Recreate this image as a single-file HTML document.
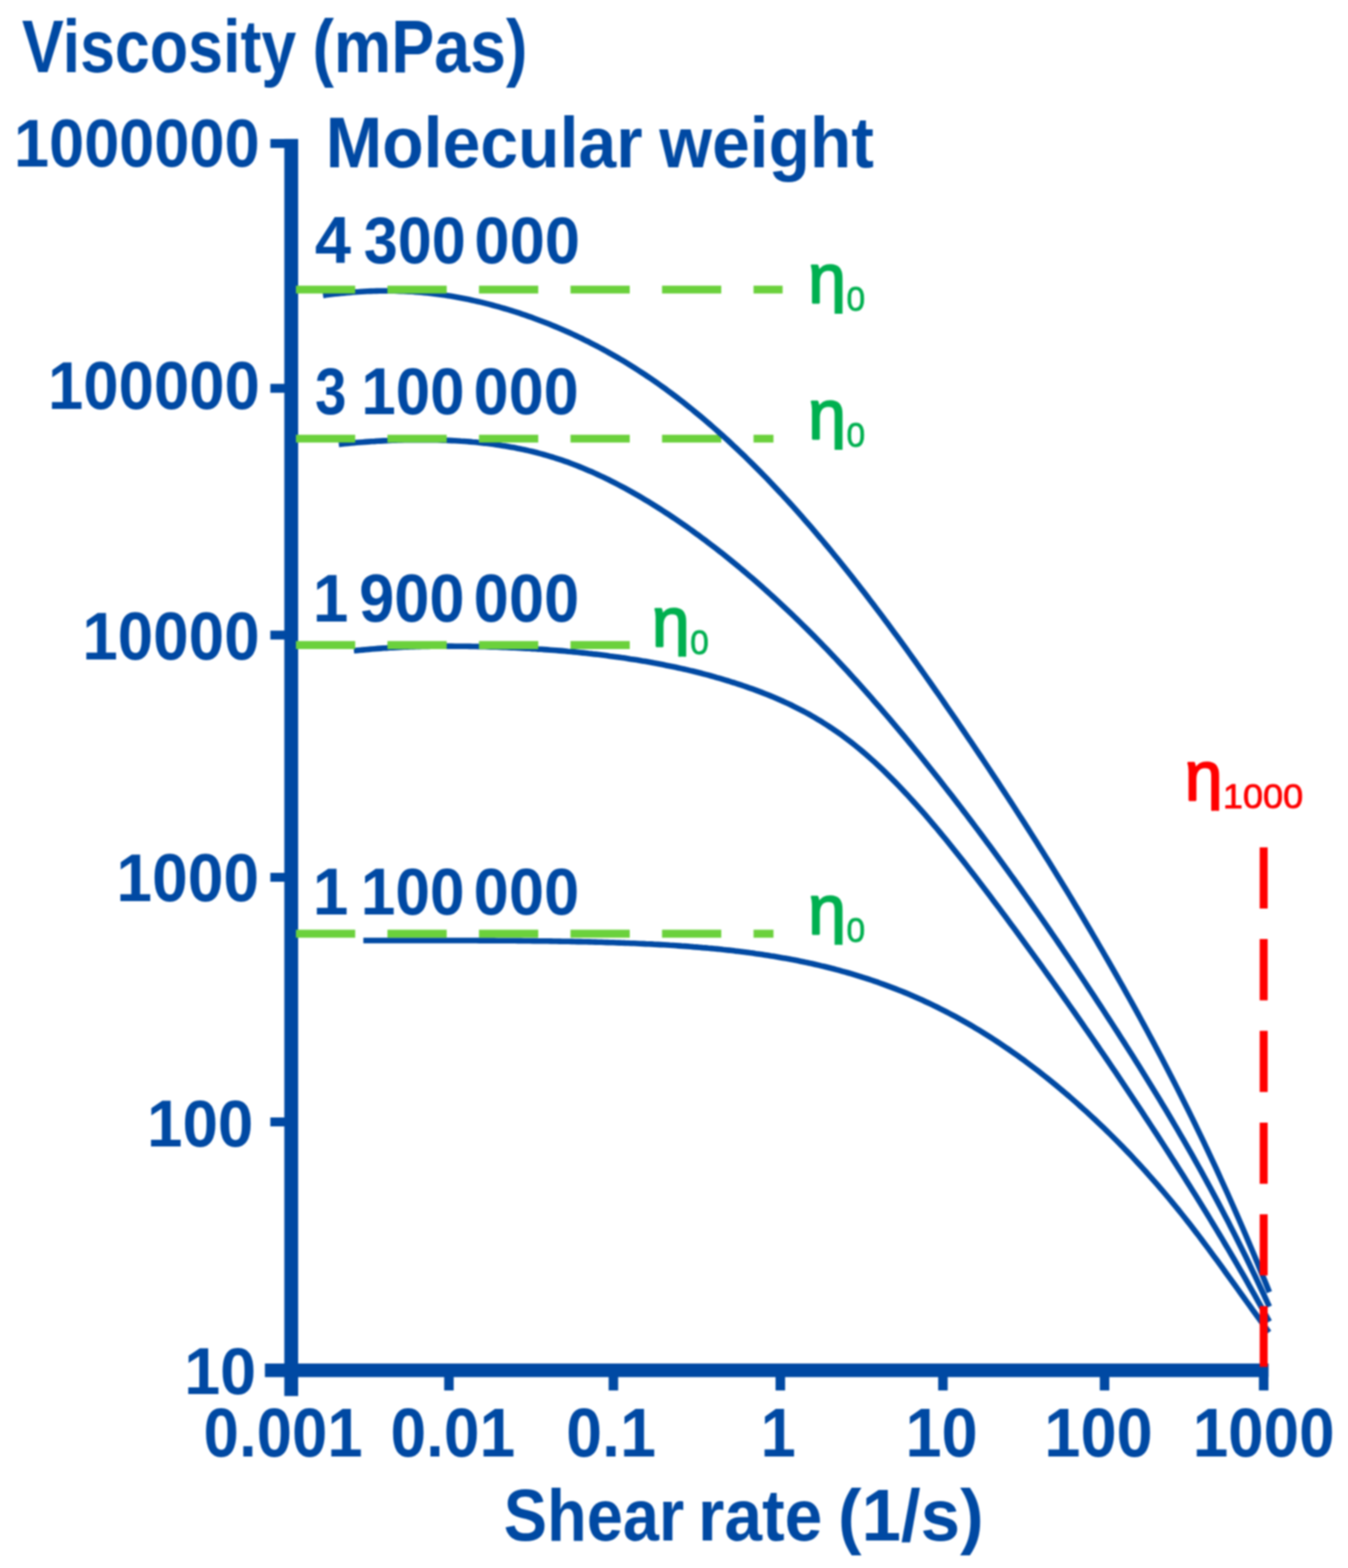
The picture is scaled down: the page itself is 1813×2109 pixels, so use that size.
<!DOCTYPE html>
<html lang="en"><head><meta charset="utf-8"><title>Viscosity (mPas) - Shear rate (1/s)</title>
<style>html,body{margin:0;padding:0;background:#fff;}body{width:1813px;height:2109px;overflow:hidden;}svg{display:block;}text{font-family:"Liberation Sans", sans-serif;font-size:100px;white-space:pre;}</style></head><body>
<svg width="1813" height="2109" viewBox="0 0 1813 2109">
<rect width="1813" height="2109" fill="#fff"/>
<g style="filter:blur(0.8px)">
<g fill="#0049A3">
<rect x="382.40" y="186.9" width="18.6" height="1690.8"/>
<rect x="356.3" y="1833.95" width="1349.9" height="18.3"/>
<rect x="363.6" y="187.00" width="28.10" height="12"/>
<rect x="363.6" y="516.30" width="28.10" height="12"/>
<rect x="363.6" y="848.20" width="28.10" height="12"/>
<rect x="363.6" y="1174.00" width="28.10" height="12"/>
<rect x="363.6" y="1503.00" width="28.10" height="12"/>
<rect x="597.40" y="1843.10" width="12.8" height="27.10"/>
<rect x="818.60" y="1843.10" width="12.8" height="27.10"/>
<rect x="1043.10" y="1843.10" width="12.8" height="27.10"/>
<rect x="1261.80" y="1843.10" width="12.8" height="27.10"/>
<rect x="1479.20" y="1843.10" width="12.8" height="27.10"/>
<rect x="1693.20" y="1843.10" width="12.8" height="27.10"/>
</g>
<path d="M488.7,1265.0 L492.7,1265.0 L496.7,1265.0 L500.7,1265.0 L504.7,1265.0 L508.7,1265.0 L512.7,1265.0 L516.7,1265.0 L520.7,1265.0 L524.7,1265.0 L528.7,1265.0 L532.7,1265.0 L536.7,1265.0 L540.7,1265.0 L544.7,1265.0 L548.7,1265.0 L552.7,1265.0 L556.7,1265.0 L560.7,1265.0 L564.7,1265.0 L568.7,1265.0 L572.7,1265.0 L576.7,1265.0 L580.7,1265.0 L584.7,1265.0 L588.7,1265.0 L592.7,1265.0 L596.7,1265.0 L600.7,1265.0 L604.7,1265.0 L608.7,1265.0 L612.7,1265.0 L616.7,1265.0 L620.7,1265.0 L624.7,1265.0 L628.7,1265.0 L632.7,1265.0 L636.7,1265.0 L640.7,1265.0 L644.7,1265.1 L648.7,1265.1 L652.7,1265.1 L656.7,1265.1 L660.7,1265.1 L664.7,1265.1 L668.7,1265.2 L672.7,1265.2 L676.7,1265.2 L680.7,1265.2 L684.7,1265.3 L688.7,1265.3 L692.7,1265.3 L696.7,1265.4 L700.7,1265.4 L704.7,1265.5 L708.7,1265.5 L712.7,1265.5 L716.7,1265.6 L720.7,1265.6 L724.7,1265.7 L728.7,1265.7 L732.7,1265.8 L736.7,1265.8 L740.7,1265.9 L744.7,1266.0 L748.7,1266.0 L752.7,1266.1 L756.7,1266.2 L760.7,1266.2 L764.7,1266.3 L768.7,1266.4 L772.7,1266.5 L776.7,1266.6 L780.7,1266.6 L784.7,1266.7 L788.7,1266.8 L792.7,1266.9 L796.7,1267.0 L800.7,1267.1 L804.7,1267.2 L808.7,1267.3 L812.7,1267.5 L816.7,1267.6 L820.7,1267.7 L824.7,1267.8 L828.7,1268.0 L832.7,1268.1 L836.7,1268.2 L840.7,1268.4 L844.7,1268.5 L848.7,1268.7 L852.7,1268.8 L856.7,1269.0 L860.7,1269.2 L864.7,1269.4 L868.7,1269.6 L872.7,1269.7 L876.7,1269.9 L880.7,1270.2 L884.7,1270.4 L888.7,1270.6 L892.7,1270.8 L896.7,1271.0 L900.7,1271.3 L904.7,1271.5 L908.7,1271.8 L912.7,1272.1 L916.7,1272.4 L920.7,1272.6 L924.7,1272.9 L928.7,1273.2 L932.7,1273.6 L936.7,1273.9 L940.7,1274.2 L944.7,1274.6 L948.7,1274.9 L952.7,1275.3 L956.7,1275.6 L960.7,1276.0 L964.7,1276.4 L968.7,1276.8 L972.7,1277.3 L976.7,1277.7 L980.7,1278.1 L984.7,1278.6 L988.7,1279.1 L992.7,1279.5 L996.7,1280.0 L1000.7,1280.5 L1004.7,1281.0 L1008.7,1281.6 L1012.7,1282.1 L1016.7,1282.7 L1020.7,1283.2 L1024.7,1283.8 L1028.7,1284.4 L1032.7,1285.0 L1036.7,1285.7 L1040.7,1286.3 L1044.7,1287.0 L1048.7,1287.7 L1052.7,1288.4 L1056.7,1289.1 L1060.7,1289.8 L1064.7,1290.6 L1068.7,1291.3 L1072.7,1292.1 L1076.7,1292.9 L1080.7,1293.7 L1084.7,1294.6 L1088.7,1295.4 L1092.7,1296.3 L1096.7,1297.2 L1100.7,1298.1 L1104.7,1299.1 L1108.7,1300.0 L1112.7,1301.0 L1116.7,1302.0 L1120.7,1303.0 L1124.7,1304.1 L1128.7,1305.2 L1132.7,1306.3 L1136.7,1307.4 L1140.7,1308.5 L1144.7,1309.7 L1148.7,1310.9 L1152.7,1312.1 L1156.7,1313.3 L1160.7,1314.6 L1164.7,1315.8 L1168.7,1317.2 L1172.7,1318.5 L1176.7,1319.9 L1180.7,1321.2 L1184.7,1322.7 L1188.7,1324.1 L1192.7,1325.6 L1196.7,1327.1 L1200.7,1328.6 L1204.7,1330.1 L1208.7,1331.7 L1212.7,1333.3 L1216.7,1334.9 L1220.7,1336.6 L1224.7,1338.3 L1228.7,1340.0 L1232.7,1341.8 L1236.7,1343.5 L1240.7,1345.3 L1244.7,1347.2 L1248.7,1349.0 L1252.7,1350.9 L1256.7,1352.9 L1260.7,1354.8 L1264.7,1356.8 L1268.7,1358.8 L1272.7,1360.9 L1276.7,1363.0 L1280.7,1365.1 L1284.7,1367.2 L1288.7,1369.4 L1292.7,1371.6 L1296.7,1373.9 L1300.7,1376.1 L1304.7,1378.4 L1308.7,1380.8 L1312.7,1383.2 L1316.7,1385.6 L1320.7,1388.0 L1324.7,1390.5 L1328.7,1393.0 L1332.7,1395.5 L1336.7,1398.1 L1340.7,1400.7 L1344.7,1403.4 L1348.7,1406.1 L1352.7,1408.8 L1356.7,1411.5 L1360.7,1414.3 L1364.7,1417.1 L1368.7,1419.9 L1372.7,1422.8 L1376.7,1425.7 L1380.7,1428.7 L1384.7,1431.7 L1388.7,1434.7 L1392.7,1437.7 L1396.7,1440.8 L1400.7,1443.9 L1404.7,1447.1 L1408.7,1450.3 L1412.7,1453.5 L1416.7,1456.7 L1420.7,1460.0 L1424.7,1463.4 L1428.7,1466.7 L1432.7,1470.1 L1436.7,1473.5 L1440.7,1477.0 L1444.7,1480.5 L1448.7,1484.0 L1452.7,1487.6 L1456.7,1491.2 L1460.7,1494.8 L1464.7,1498.5 L1468.7,1502.2 L1472.7,1505.9 L1476.7,1509.7 L1480.7,1513.5 L1484.7,1517.3 L1488.7,1521.2 L1492.7,1525.1 L1496.7,1529.1 L1500.7,1533.1 L1504.7,1537.2 L1508.7,1541.2 L1512.7,1545.4 L1516.7,1549.5 L1520.7,1553.7 L1524.7,1558.0 L1528.7,1562.3 L1532.7,1566.6 L1536.7,1571.0 L1540.7,1575.4 L1544.7,1579.9 L1548.7,1584.4 L1552.7,1588.9 L1556.7,1593.5 L1560.7,1598.2 L1564.7,1602.9 L1568.7,1607.6 L1572.7,1612.4 L1576.7,1617.2 L1580.7,1622.1 L1584.7,1627.0 L1588.7,1632.0 L1592.7,1637.0 L1596.7,1642.1 L1600.7,1647.2 L1604.7,1652.4 L1608.7,1657.6 L1612.7,1662.8 L1616.7,1668.1 L1620.7,1673.5 L1624.7,1678.8 L1628.7,1684.2 L1632.7,1689.7 L1636.7,1695.1 L1640.7,1700.6 L1644.7,1706.1 L1648.7,1711.7 L1652.7,1717.2 L1656.7,1722.7 L1660.7,1728.3 L1664.7,1733.9 L1668.7,1739.4 L1672.7,1745.0 L1676.7,1750.6 L1680.7,1756.1 L1684.7,1761.7 L1688.7,1767.3 L1692.7,1772.8 L1696.7,1778.3 L1700.7,1783.8 L1704.7,1789.3 L1706.7,1792.0" fill="none" stroke="#0049A3" stroke-width="7.6" stroke-linecap="butt" stroke-linejoin="round"/>
<line x1="398" y1="1255.9" x2="1040.3" y2="1255.9" fill="none" stroke="#6BD13C" stroke-width="10.6" stroke-dasharray="79.7 43.4"/>
<path d="M476.0,875.3 L480.0,874.9 L484.0,874.5 L488.0,874.1 L492.0,873.7 L496.0,873.4 L500.0,873.0 L504.0,872.7 L508.0,872.4 L512.0,872.1 L516.0,871.8 L520.0,871.6 L524.0,871.3 L528.0,871.1 L532.0,870.9 L536.0,870.7 L540.0,870.5 L544.0,870.3 L548.0,870.2 L552.0,870.0 L556.0,869.9 L560.0,869.7 L564.0,869.6 L568.0,869.5 L572.0,869.4 L576.0,869.4 L580.0,869.3 L584.0,869.3 L588.0,869.2 L592.0,869.2 L596.0,869.2 L600.0,869.1 L604.0,869.1 L608.0,869.1 L612.0,869.2 L616.0,869.2 L620.0,869.2 L624.0,869.3 L628.0,869.3 L632.0,869.4 L636.0,869.5 L640.0,869.5 L644.0,869.6 L648.0,869.7 L652.0,869.8 L656.0,869.9 L660.0,870.1 L664.0,870.2 L668.0,870.3 L672.0,870.5 L676.0,870.6 L680.0,870.8 L684.0,870.9 L688.0,871.1 L692.0,871.3 L696.0,871.5 L700.0,871.7 L704.0,871.9 L708.0,872.1 L712.0,872.3 L716.0,872.6 L720.0,872.8 L724.0,873.1 L728.0,873.3 L732.0,873.6 L736.0,873.9 L740.0,874.2 L744.0,874.5 L748.0,874.8 L752.0,875.1 L756.0,875.4 L760.0,875.8 L764.0,876.2 L768.0,876.5 L772.0,876.9 L776.0,877.3 L780.0,877.7 L784.0,878.1 L788.0,878.5 L792.0,879.0 L796.0,879.4 L800.0,879.9 L804.0,880.3 L808.0,880.8 L812.0,881.3 L816.0,881.8 L820.0,882.4 L824.0,882.9 L828.0,883.4 L832.0,884.0 L836.0,884.6 L840.0,885.1 L844.0,885.7 L848.0,886.4 L852.0,887.0 L856.0,887.6 L860.0,888.3 L864.0,889.0 L868.0,889.6 L872.0,890.3 L876.0,891.0 L880.0,891.8 L884.0,892.5 L888.0,893.3 L892.0,894.1 L896.0,894.9 L900.0,895.7 L904.0,896.5 L908.0,897.3 L912.0,898.2 L916.0,899.1 L920.0,900.0 L924.0,900.9 L928.0,901.9 L932.0,902.8 L936.0,903.8 L940.0,904.8 L944.0,905.8 L948.0,906.9 L952.0,907.9 L956.0,909.0 L960.0,910.1 L964.0,911.3 L968.0,912.4 L972.0,913.6 L976.0,914.8 L980.0,916.0 L984.0,917.3 L988.0,918.5 L992.0,919.8 L996.0,921.1 L1000.0,922.5 L1004.0,923.9 L1008.0,925.3 L1012.0,926.7 L1016.0,928.1 L1020.0,929.6 L1024.0,931.1 L1028.0,932.7 L1032.0,934.3 L1036.0,935.9 L1040.0,937.5 L1044.0,939.2 L1048.0,941.0 L1052.0,942.7 L1056.0,944.6 L1060.0,946.4 L1064.0,948.3 L1068.0,950.3 L1072.0,952.3 L1076.0,954.3 L1080.0,956.4 L1084.0,958.5 L1088.0,960.7 L1092.0,963.0 L1096.0,965.3 L1100.0,967.7 L1104.0,970.1 L1108.0,972.6 L1112.0,975.1 L1116.0,977.7 L1120.0,980.4 L1124.0,983.1 L1128.0,985.9 L1132.0,988.7 L1136.0,991.7 L1140.0,994.7 L1144.0,997.7 L1148.0,1000.9 L1152.0,1004.1 L1156.0,1007.4 L1160.0,1010.7 L1164.0,1014.1 L1168.0,1017.6 L1172.0,1021.2 L1176.0,1024.8 L1180.0,1028.5 L1184.0,1032.3 L1188.0,1036.1 L1192.0,1040.0 L1196.0,1044.0 L1200.0,1048.0 L1204.0,1052.0 L1208.0,1056.1 L1212.0,1060.3 L1216.0,1064.6 L1220.0,1068.8 L1224.0,1073.2 L1228.0,1077.6 L1232.0,1082.0 L1236.0,1086.5 L1240.0,1091.0 L1244.0,1095.6 L1248.0,1100.3 L1252.0,1104.9 L1256.0,1109.7 L1260.0,1114.4 L1264.0,1119.2 L1268.0,1124.1 L1272.0,1128.9 L1276.0,1133.8 L1280.0,1138.8 L1284.0,1143.8 L1288.0,1148.8 L1292.0,1153.8 L1296.0,1158.9 L1300.0,1164.0 L1304.0,1169.2 L1308.0,1174.3 L1312.0,1179.5 L1316.0,1184.7 L1320.0,1190.0 L1324.0,1195.2 L1328.0,1200.5 L1332.0,1205.8 L1336.0,1211.2 L1340.0,1216.5 L1344.0,1221.8 L1348.0,1227.2 L1352.0,1232.6 L1356.0,1238.0 L1360.0,1243.4 L1364.0,1248.8 L1368.0,1254.3 L1372.0,1259.7 L1376.0,1265.2 L1380.0,1270.7 L1384.0,1276.2 L1388.0,1281.7 L1392.0,1287.2 L1396.0,1292.7 L1400.0,1298.3 L1404.0,1303.9 L1408.0,1309.4 L1412.0,1315.0 L1416.0,1320.6 L1420.0,1326.2 L1424.0,1331.9 L1428.0,1337.5 L1432.0,1343.2 L1436.0,1348.9 L1440.0,1354.6 L1444.0,1360.3 L1448.0,1366.0 L1452.0,1371.7 L1456.0,1377.5 L1460.0,1383.3 L1464.0,1389.0 L1468.0,1394.8 L1472.0,1400.6 L1476.0,1406.5 L1480.0,1412.3 L1484.0,1418.2 L1488.0,1424.0 L1492.0,1429.9 L1496.0,1435.8 L1500.0,1441.7 L1504.0,1447.7 L1508.0,1453.6 L1512.0,1459.6 L1516.0,1465.6 L1520.0,1471.6 L1524.0,1477.6 L1528.0,1483.6 L1532.0,1489.6 L1536.0,1495.7 L1540.0,1501.8 L1544.0,1507.9 L1548.0,1514.0 L1552.0,1520.1 L1556.0,1526.2 L1560.0,1532.4 L1564.0,1538.5 L1568.0,1544.7 L1572.0,1550.9 L1576.0,1557.2 L1580.0,1563.4 L1584.0,1569.7 L1588.0,1576.0 L1592.0,1582.3 L1596.0,1588.7 L1600.0,1595.0 L1604.0,1601.4 L1608.0,1607.8 L1612.0,1614.3 L1616.0,1620.8 L1620.0,1627.3 L1624.0,1633.8 L1628.0,1640.4 L1632.0,1647.0 L1636.0,1653.6 L1640.0,1660.2 L1644.0,1666.9 L1648.0,1673.7 L1652.0,1680.4 L1656.0,1687.2 L1660.0,1694.0 L1664.0,1700.9 L1668.0,1707.8 L1672.0,1714.7 L1676.0,1721.7 L1680.0,1728.8 L1684.0,1735.8 L1688.0,1742.9 L1692.0,1750.1 L1696.0,1757.2 L1700.0,1764.5 L1704.0,1771.8 L1707.2,1777.6" fill="none" stroke="#0049A3" stroke-width="7.6" stroke-linecap="butt" stroke-linejoin="round"/>
<line x1="398" y1="867.6" x2="850.0" y2="867.6" fill="none" stroke="#6BD13C" stroke-width="10.6" stroke-dasharray="79.7 43.4"/>
<path d="M455.7,597.6 L459.7,597.2 L463.7,596.8 L467.7,596.4 L471.7,596.0 L475.7,595.7 L479.7,595.3 L483.7,595.0 L487.7,594.7 L491.7,594.4 L495.7,594.1 L499.7,593.8 L503.7,593.6 L507.7,593.3 L511.7,593.1 L515.7,592.9 L519.7,592.7 L523.7,592.5 L527.7,592.3 L531.7,592.2 L535.7,592.0 L539.7,591.9 L543.7,591.8 L547.7,591.7 L551.7,591.7 L555.7,591.6 L559.7,591.6 L563.7,591.6 L567.7,591.6 L571.7,591.6 L575.7,591.6 L579.7,591.7 L583.7,591.7 L587.7,591.8 L591.7,591.9 L595.7,592.1 L599.7,592.2 L603.7,592.4 L607.7,592.6 L611.7,592.8 L615.7,593.0 L619.7,593.3 L623.7,593.5 L627.7,593.8 L631.7,594.1 L635.7,594.5 L639.7,594.8 L643.7,595.2 L647.7,595.7 L651.7,596.1 L655.7,596.6 L659.7,597.1 L663.7,597.6 L667.7,598.2 L671.7,598.7 L675.7,599.4 L679.7,600.0 L683.7,600.7 L687.7,601.4 L691.7,602.1 L695.7,602.9 L699.7,603.7 L703.7,604.6 L707.7,605.4 L711.7,606.4 L715.7,607.3 L719.7,608.3 L723.7,609.3 L727.7,610.4 L731.7,611.5 L735.7,612.6 L739.7,613.8 L743.7,615.0 L747.7,616.3 L751.7,617.6 L755.7,618.9 L759.7,620.3 L763.7,621.7 L767.7,623.2 L771.7,624.7 L775.7,626.3 L779.7,627.9 L783.7,629.5 L787.7,631.2 L791.7,632.9 L795.7,634.6 L799.7,636.4 L803.7,638.2 L807.7,640.1 L811.7,641.9 L815.7,643.9 L819.7,645.8 L823.7,647.9 L827.7,649.9 L831.7,652.0 L835.7,654.1 L839.7,656.2 L843.7,658.4 L847.7,660.6 L851.7,662.9 L855.7,665.1 L859.7,667.4 L863.7,669.8 L867.7,672.2 L871.7,674.6 L875.7,677.0 L879.7,679.5 L883.7,682.0 L887.7,684.5 L891.7,687.1 L895.7,689.7 L899.7,692.3 L903.7,695.0 L907.7,697.7 L911.7,700.4 L915.7,703.1 L919.7,705.9 L923.7,708.7 L927.7,711.5 L931.7,714.4 L935.7,717.3 L939.7,720.2 L943.7,723.2 L947.7,726.1 L951.7,729.2 L955.7,732.2 L959.7,735.3 L963.7,738.3 L967.7,741.5 L971.7,744.6 L975.7,747.8 L979.7,751.0 L983.7,754.3 L987.7,757.5 L991.7,760.8 L995.7,764.1 L999.7,767.5 L1003.7,770.9 L1007.7,774.3 L1011.7,777.7 L1015.7,781.2 L1019.7,784.7 L1023.7,788.2 L1027.7,791.8 L1031.7,795.4 L1035.7,799.0 L1039.7,802.6 L1043.7,806.3 L1047.7,810.0 L1051.7,813.7 L1055.7,817.5 L1059.7,821.2 L1063.7,825.0 L1067.7,828.9 L1071.7,832.7 L1075.7,836.6 L1079.7,840.6 L1083.7,844.5 L1087.7,848.5 L1091.7,852.5 L1095.7,856.5 L1099.7,860.6 L1103.7,864.7 L1107.7,868.8 L1111.7,872.9 L1115.7,877.1 L1119.7,881.3 L1123.7,885.5 L1127.7,889.8 L1131.7,894.1 L1135.7,898.4 L1139.7,902.7 L1143.7,907.1 L1147.7,911.5 L1151.7,915.9 L1155.7,920.3 L1159.7,924.8 L1163.7,929.2 L1167.7,933.8 L1171.7,938.3 L1175.7,942.9 L1179.7,947.5 L1183.7,952.1 L1187.7,956.7 L1191.7,961.4 L1195.7,966.0 L1199.7,970.8 L1203.7,975.5 L1207.7,980.2 L1211.7,985.0 L1215.7,989.8 L1219.7,994.7 L1223.7,999.5 L1227.7,1004.4 L1231.7,1009.3 L1235.7,1014.2 L1239.7,1019.1 L1243.7,1024.1 L1247.7,1029.1 L1251.7,1034.1 L1255.7,1039.1 L1259.7,1044.2 L1263.7,1049.2 L1267.7,1054.3 L1271.7,1059.5 L1275.7,1064.6 L1279.7,1069.7 L1283.7,1074.9 L1287.7,1080.1 L1291.7,1085.3 L1295.7,1090.6 L1299.7,1095.8 L1303.7,1101.1 L1307.7,1106.4 L1311.7,1111.7 L1315.7,1117.1 L1319.7,1122.4 L1323.7,1127.8 L1327.7,1133.2 L1331.7,1138.6 L1335.7,1144.1 L1339.7,1149.5 L1343.7,1155.0 L1347.7,1160.5 L1351.7,1166.0 L1355.7,1171.5 L1359.7,1177.1 L1363.7,1182.6 L1367.7,1188.2 L1371.7,1193.8 L1375.7,1199.5 L1379.7,1205.1 L1383.7,1210.8 L1387.7,1216.5 L1391.7,1222.2 L1395.7,1227.9 L1399.7,1233.6 L1403.7,1239.4 L1407.7,1245.2 L1411.7,1251.0 L1415.7,1256.8 L1419.7,1262.6 L1423.7,1268.5 L1427.7,1274.4 L1431.7,1280.3 L1435.7,1286.2 L1439.7,1292.1 L1443.7,1298.0 L1447.7,1304.0 L1451.7,1310.0 L1455.7,1316.0 L1459.7,1322.0 L1463.7,1328.1 L1467.7,1334.1 L1471.7,1340.2 L1475.7,1346.3 L1479.7,1352.4 L1483.7,1358.5 L1487.7,1364.7 L1491.7,1370.8 L1495.7,1377.0 L1499.7,1383.2 L1503.7,1389.4 L1507.7,1395.7 L1511.7,1401.9 L1515.7,1408.2 L1519.7,1414.5 L1523.7,1420.8 L1527.7,1427.2 L1531.7,1433.6 L1535.7,1440.0 L1539.7,1446.4 L1543.7,1452.9 L1547.7,1459.4 L1551.7,1465.9 L1555.7,1472.4 L1559.7,1479.0 L1563.7,1485.7 L1567.7,1492.3 L1571.7,1499.0 L1575.7,1505.8 L1579.7,1512.6 L1583.7,1519.4 L1587.7,1526.3 L1591.7,1533.2 L1595.7,1540.2 L1599.7,1547.2 L1603.7,1554.2 L1607.7,1561.3 L1611.7,1568.5 L1615.7,1575.7 L1619.7,1583.0 L1623.7,1590.3 L1627.7,1597.6 L1631.7,1605.1 L1635.7,1612.6 L1639.7,1620.1 L1643.7,1627.7 L1647.7,1635.4 L1651.7,1643.1 L1655.7,1650.9 L1659.7,1658.7 L1663.7,1666.7 L1667.7,1674.7 L1671.7,1682.7 L1675.7,1690.8 L1679.7,1699.0 L1683.7,1707.3 L1687.7,1715.7 L1691.7,1724.1 L1695.7,1732.6 L1699.7,1741.2 L1703.7,1749.8 L1707.2,1757.5" fill="none" stroke="#0049A3" stroke-width="7.6" stroke-linecap="butt" stroke-linejoin="round"/>
<line x1="398" y1="590.0" x2="1040.3" y2="590.0" fill="none" stroke="#6BD13C" stroke-width="10.6" stroke-dasharray="79.7 43.4"/>
<path d="M434.5,397.4 L438.5,396.8 L442.5,396.3 L446.5,395.8 L450.5,395.3 L454.5,394.9 L458.5,394.5 L462.5,394.1 L466.5,393.7 L470.5,393.4 L474.5,393.0 L478.5,392.7 L482.5,392.5 L486.5,392.2 L490.5,392.0 L494.5,391.8 L498.5,391.6 L502.5,391.5 L506.5,391.4 L510.5,391.3 L514.5,391.3 L518.5,391.2 L522.5,391.2 L526.5,391.3 L530.5,391.3 L534.5,391.4 L538.5,391.6 L542.5,391.7 L546.5,391.9 L550.5,392.1 L554.5,392.3 L558.5,392.6 L562.5,392.9 L566.5,393.3 L570.5,393.6 L574.5,394.0 L578.5,394.5 L582.5,394.9 L586.5,395.4 L590.5,395.9 L594.5,396.5 L598.5,397.1 L602.5,397.7 L606.5,398.3 L610.5,399.0 L614.5,399.7 L618.5,400.4 L622.5,401.2 L626.5,402.0 L630.5,402.8 L634.5,403.7 L638.5,404.6 L642.5,405.5 L646.5,406.4 L650.5,407.4 L654.5,408.4 L658.5,409.4 L662.5,410.5 L666.5,411.6 L670.5,412.7 L674.5,413.8 L678.5,415.0 L682.5,416.2 L686.5,417.4 L690.5,418.7 L694.5,419.9 L698.5,421.2 L702.5,422.6 L706.5,423.9 L710.5,425.3 L714.5,426.7 L718.5,428.2 L722.5,429.7 L726.5,431.2 L730.5,432.7 L734.5,434.3 L738.5,435.8 L742.5,437.5 L746.5,439.1 L750.5,440.8 L754.5,442.5 L758.5,444.2 L762.5,446.0 L766.5,447.8 L770.5,449.6 L774.5,451.5 L778.5,453.4 L782.5,455.3 L786.5,457.3 L790.5,459.2 L794.5,461.3 L798.5,463.3 L802.5,465.4 L806.5,467.5 L810.5,469.7 L814.5,471.8 L818.5,474.1 L822.5,476.3 L826.5,478.6 L830.5,480.9 L834.5,483.2 L838.5,485.6 L842.5,488.0 L846.5,490.5 L850.5,493.0 L854.5,495.5 L858.5,498.1 L862.5,500.7 L866.5,503.3 L870.5,506.0 L874.5,508.7 L878.5,511.4 L882.5,514.2 L886.5,517.0 L890.5,519.8 L894.5,522.7 L898.5,525.7 L902.5,528.6 L906.5,531.6 L910.5,534.6 L914.5,537.7 L918.5,540.8 L922.5,544.0 L926.5,547.2 L930.5,550.4 L934.5,553.7 L938.5,557.0 L942.5,560.3 L946.5,563.7 L950.5,567.1 L954.5,570.5 L958.5,574.0 L962.5,577.5 L966.5,581.1 L970.5,584.6 L974.5,588.3 L978.5,591.9 L982.5,595.6 L986.5,599.4 L990.5,603.1 L994.5,606.9 L998.5,610.8 L1002.5,614.6 L1006.5,618.6 L1010.5,622.5 L1014.5,626.5 L1018.5,630.5 L1022.5,634.5 L1026.5,638.6 L1030.5,642.7 L1034.5,646.9 L1038.5,651.1 L1042.5,655.3 L1046.5,659.6 L1050.5,663.8 L1054.5,668.2 L1058.5,672.5 L1062.5,676.9 L1066.5,681.3 L1070.5,685.8 L1074.5,690.3 L1078.5,694.8 L1082.5,699.4 L1086.5,704.0 L1090.5,708.6 L1094.5,713.3 L1098.5,717.9 L1102.5,722.7 L1106.5,727.4 L1110.5,732.2 L1114.5,737.0 L1118.5,741.9 L1122.5,746.8 L1126.5,751.7 L1130.5,756.6 L1134.5,761.6 L1138.5,766.6 L1142.5,771.6 L1146.5,776.7 L1150.5,781.8 L1154.5,786.9 L1158.5,792.1 L1162.5,797.2 L1166.5,802.4 L1170.5,807.7 L1174.5,812.9 L1178.5,818.2 L1182.5,823.5 L1186.5,828.8 L1190.5,834.2 L1194.5,839.6 L1198.5,845.0 L1202.5,850.4 L1206.5,855.8 L1210.5,861.3 L1214.5,866.8 L1218.5,872.3 L1222.5,877.9 L1226.5,883.4 L1230.5,889.0 L1234.5,894.6 L1238.5,900.3 L1242.5,905.9 L1246.5,911.6 L1250.5,917.3 L1254.5,923.0 L1258.5,928.7 L1262.5,934.4 L1266.5,940.2 L1270.5,946.0 L1274.5,951.8 L1278.5,957.6 L1282.5,963.4 L1286.5,969.2 L1290.5,975.1 L1294.5,981.0 L1298.5,986.9 L1302.5,992.8 L1306.5,998.7 L1310.5,1004.6 L1314.5,1010.6 L1318.5,1016.5 L1322.5,1022.5 L1326.5,1028.5 L1330.5,1034.5 L1334.5,1040.6 L1338.5,1046.6 L1342.5,1052.7 L1346.5,1058.8 L1350.5,1064.9 L1354.5,1071.0 L1358.5,1077.1 L1362.5,1083.3 L1366.5,1089.5 L1370.5,1095.7 L1374.5,1101.9 L1378.5,1108.1 L1382.5,1114.4 L1386.5,1120.7 L1390.5,1127.0 L1394.5,1133.3 L1398.5,1139.7 L1402.5,1146.0 L1406.5,1152.4 L1410.5,1158.8 L1414.5,1165.3 L1418.5,1171.7 L1422.5,1178.2 L1426.5,1184.7 L1430.5,1191.3 L1434.5,1197.8 L1438.5,1204.4 L1442.5,1211.0 L1446.5,1217.7 L1450.5,1224.3 L1454.5,1231.0 L1458.5,1237.8 L1462.5,1244.5 L1466.5,1251.3 L1470.5,1258.1 L1474.5,1264.9 L1478.5,1271.8 L1482.5,1278.6 L1486.5,1285.6 L1490.5,1292.5 L1494.5,1299.5 L1498.5,1306.5 L1502.5,1313.5 L1506.5,1320.6 L1510.5,1327.7 L1514.5,1334.8 L1518.5,1342.0 L1522.5,1349.2 L1526.5,1356.4 L1530.5,1363.7 L1534.5,1371.0 L1538.5,1378.3 L1542.5,1385.7 L1546.5,1393.2 L1550.5,1400.6 L1554.5,1408.2 L1558.5,1415.7 L1562.5,1423.3 L1566.5,1431.0 L1570.5,1438.7 L1574.5,1446.4 L1578.5,1454.2 L1582.5,1462.1 L1586.5,1470.0 L1590.5,1478.0 L1594.5,1486.0 L1598.5,1494.0 L1602.5,1502.2 L1606.5,1510.3 L1610.5,1518.6 L1614.5,1526.9 L1618.5,1535.2 L1622.5,1543.6 L1626.5,1552.1 L1630.5,1560.6 L1634.5,1569.2 L1638.5,1577.9 L1642.5,1586.7 L1646.5,1595.5 L1650.5,1604.3 L1654.5,1613.3 L1658.5,1622.3 L1662.5,1631.4 L1666.5,1640.5 L1670.5,1649.7 L1674.5,1659.0 L1678.5,1668.4 L1682.5,1677.9 L1686.5,1687.4 L1690.5,1697.0 L1694.5,1706.7 L1698.5,1716.5 L1702.5,1726.3 L1706.5,1736.2 L1707.2,1738.0" fill="none" stroke="#0049A3" stroke-width="7.6" stroke-linecap="butt" stroke-linejoin="round"/>
<line x1="398" y1="389.5" x2="1052.6" y2="389.5" fill="none" stroke="#6BD13C" stroke-width="10.6" stroke-dasharray="79.7 43.4"/>
<line x1="1699.6" y1="1139.7" x2="1699.6" y2="1838.6" stroke="#FF0000" stroke-width="10.7" stroke-dasharray="82.3 41.1" fill="none"/>
<text transform="translate(0,97.20) scale(1,0.9942)" font-weight="bold" fill="#0049A3"><tspan x="29.46" textLength="369.01" lengthAdjust="spacingAndGlyphs">Viscosity</tspan><tspan> </tspan><tspan x="420.16" textLength="289.20" lengthAdjust="spacingAndGlyphs">(mPas)</tspan></text>
<text transform="translate(0,224.60) scale(1,0.9565)" font-weight="bold" fill="#0049A3"><tspan x="437.90" textLength="426.54" lengthAdjust="spacingAndGlyphs">Molecular</tspan><tspan> </tspan><tspan x="886.80" textLength="288.51" lengthAdjust="spacingAndGlyphs">weight</tspan></text>
<text transform="translate(0,2071.82) scale(1,0.9831)" font-weight="bold" fill="#0049A3"><tspan x="677.58" textLength="242.71" lengthAdjust="spacingAndGlyphs">Shear</tspan><tspan> </tspan><tspan x="938.82" textLength="167.23" lengthAdjust="spacingAndGlyphs">rate</tspan><tspan> </tspan><tspan x="1127.03" textLength="195.97" lengthAdjust="spacingAndGlyphs">(1/s)</tspan></text>
<text transform="translate(0,223.99) scale(1,0.9056)" font-weight="bold" fill="#0049A3"><tspan x="18.71" textLength="330.56" lengthAdjust="spacingAndGlyphs">1000000</tspan></text>
<text transform="translate(0,549.59) scale(1,0.9070)" font-weight="bold" fill="#0049A3"><tspan x="64.57" textLength="285.04" lengthAdjust="spacingAndGlyphs">100000</tspan></text>
<text transform="translate(0,886.79) scale(1,0.9056)" font-weight="bold" fill="#0049A3"><tspan x="110.66" textLength="238.44" lengthAdjust="spacingAndGlyphs">10000</tspan></text>
<text transform="translate(0,1211.79) scale(1,0.9056)" font-weight="bold" fill="#0049A3"><tspan x="156.63" textLength="191.83" lengthAdjust="spacingAndGlyphs">1000</tspan></text>
<text transform="translate(0,1541.50) scale(1,0.8986)" font-weight="bold" fill="#0049A3"><tspan x="197.76" textLength="142.95" lengthAdjust="spacingAndGlyphs">100</tspan></text>
<text transform="translate(0,1874.70) scale(1,0.8986)" font-weight="bold" fill="#0049A3"><tspan x="247.68" textLength="96.81" lengthAdjust="spacingAndGlyphs">10</tspan></text>
<text transform="translate(0,1958.78) scale(1,0.9183)" font-weight="bold" fill="#0049A3"><tspan x="273.88" textLength="213.84" lengthAdjust="spacingAndGlyphs">0.001</tspan></text>
<text transform="translate(0,1958.78) scale(1,0.9183)" font-weight="bold" fill="#0049A3"><tspan x="525.15" textLength="167.72" lengthAdjust="spacingAndGlyphs">0.01</tspan></text>
<text transform="translate(0,1958.78) scale(1,0.9183)" font-weight="bold" fill="#0049A3"><tspan x="761.53" textLength="120.69" lengthAdjust="spacingAndGlyphs">0.1</tspan></text>
<text transform="translate(0,1959.20) scale(1,0.9304)" font-weight="bold" fill="#0049A3"><tspan x="1022.89" textLength="47.34" lengthAdjust="spacingAndGlyphs">1</tspan></text>
<text transform="translate(0,1958.78) scale(1,0.9183)" font-weight="bold" fill="#0049A3"><tspan x="1217.65" textLength="97.36" lengthAdjust="spacingAndGlyphs">10</tspan></text>
<text transform="translate(0,1958.78) scale(1,0.9183)" font-weight="bold" fill="#0049A3"><tspan x="1404.56" textLength="145.82" lengthAdjust="spacingAndGlyphs">100</tspan></text>
<text transform="translate(0,1958.78) scale(1,0.9183)" font-weight="bold" fill="#0049A3"><tspan x="1604.15" textLength="190.88" lengthAdjust="spacingAndGlyphs">1000</tspan></text>
<text transform="translate(0,354.01) scale(1,0.8887)" font-weight="bold" fill="#0049A3"><tspan x="423.55" textLength="48.59" lengthAdjust="spacingAndGlyphs">4</tspan><tspan> </tspan><tspan x="489.36" textLength="137.01" lengthAdjust="spacingAndGlyphs">300</tspan><tspan> </tspan><tspan x="638.10" textLength="141.88" lengthAdjust="spacingAndGlyphs">000</tspan></text>
<text transform="translate(0,556.81) scale(1,0.8901)" font-weight="bold" fill="#0049A3"><tspan x="423.78" textLength="42.16" lengthAdjust="spacingAndGlyphs">3</tspan><tspan> </tspan><tspan x="486.01" textLength="138.80" lengthAdjust="spacingAndGlyphs">100</tspan><tspan> </tspan><tspan x="637.12" textLength="141.15" lengthAdjust="spacingAndGlyphs">000</tspan></text>
<text transform="translate(0,836.30) scale(1,0.9014)" font-weight="bold" fill="#0049A3"><tspan x="420.64" textLength="47.81" lengthAdjust="spacingAndGlyphs">1</tspan><tspan> </tspan><tspan x="483.00" textLength="141.88" lengthAdjust="spacingAndGlyphs">900</tspan><tspan> </tspan><tspan x="637.10" textLength="141.88" lengthAdjust="spacingAndGlyphs">000</tspan></text>
<text transform="translate(0,1230.10) scale(1,0.8958)" font-weight="bold" fill="#0049A3"><tspan x="420.64" textLength="47.81" lengthAdjust="spacingAndGlyphs">1</tspan><tspan> </tspan><tspan x="485.18" textLength="139.65" lengthAdjust="spacingAndGlyphs">100</tspan><tspan> </tspan><tspan x="637.10" textLength="141.88" lengthAdjust="spacingAndGlyphs">000</tspan></text>
<clipPath id="ec0"><rect x="1080.3" y="342.9" width="62.8" height="79.1"/></clipPath>
<g clip-path="url(#ec0)"><text transform="translate(1087.03,407.20) scale(0.9136,0.9444)" fill="#00B050" stroke="#00B050" stroke-width="2.6" vector-effect="non-scaling-stroke" stroke-linejoin="round">η</text></g>
<text transform="translate(0,418.24) scale(1,0.4620)" font-weight="normal" fill="#00B050" stroke="#00B050" stroke-width="2.0" vector-effect="non-scaling-stroke" stroke-linejoin="round"><tspan x="1138.60" textLength="25.03" lengthAdjust="spacingAndGlyphs">0</tspan></text>
<clipPath id="ec1"><rect x="1080.3" y="525.8" width="62.8" height="79.1"/></clipPath>
<g clip-path="url(#ec1)"><text transform="translate(1087.03,590.10) scale(0.9136,0.9444)" fill="#00B050" stroke="#00B050" stroke-width="2.6" vector-effect="non-scaling-stroke" stroke-linejoin="round">η</text></g>
<text transform="translate(0,601.14) scale(1,0.4620)" font-weight="normal" fill="#00B050" stroke="#00B050" stroke-width="2.0" vector-effect="non-scaling-stroke" stroke-linejoin="round"><tspan x="1138.60" textLength="25.03" lengthAdjust="spacingAndGlyphs">0</tspan></text>
<clipPath id="ec2"><rect x="869.9" y="804.2" width="62.8" height="79.1"/></clipPath>
<g clip-path="url(#ec2)"><text transform="translate(876.63,868.50) scale(0.9136,0.9444)" fill="#00B050" stroke="#00B050" stroke-width="2.6" vector-effect="non-scaling-stroke" stroke-linejoin="round">η</text></g>
<text transform="translate(0,879.54) scale(1,0.4620)" font-weight="normal" fill="#00B050" stroke="#00B050" stroke-width="2.0" vector-effect="non-scaling-stroke" stroke-linejoin="round"><tspan x="928.20" textLength="25.03" lengthAdjust="spacingAndGlyphs">0</tspan></text>
<clipPath id="ec3"><rect x="1080.3" y="1191.6" width="62.8" height="79.1"/></clipPath>
<g clip-path="url(#ec3)"><text transform="translate(1087.03,1255.90) scale(0.9136,0.9444)" fill="#00B050" stroke="#00B050" stroke-width="2.6" vector-effect="non-scaling-stroke" stroke-linejoin="round">η</text></g>
<text transform="translate(0,1266.94) scale(1,0.4620)" font-weight="normal" fill="#00B050" stroke="#00B050" stroke-width="2.0" vector-effect="non-scaling-stroke" stroke-linejoin="round"><tspan x="1138.60" textLength="25.03" lengthAdjust="spacingAndGlyphs">0</tspan></text>
<clipPath id="ec9"><rect x="1586.8" y="1011.4" width="62.8" height="79.1"/></clipPath>
<g clip-path="url(#ec9)"><text transform="translate(1593.53,1075.70) scale(0.9136,0.9444)" fill="#FF0000" stroke="#FF0000" stroke-width="2.6" vector-effect="non-scaling-stroke" stroke-linejoin="round">η</text></g>
<text transform="translate(0,1086.63) scale(1,0.4676)" font-weight="normal" fill="#FF0000" stroke="#FF0000" stroke-width="2.2" vector-effect="non-scaling-stroke" stroke-linejoin="round"><tspan x="1644.83" textLength="107.74" lengthAdjust="spacingAndGlyphs">1000</tspan></text>
</g>
</svg></body></html>
